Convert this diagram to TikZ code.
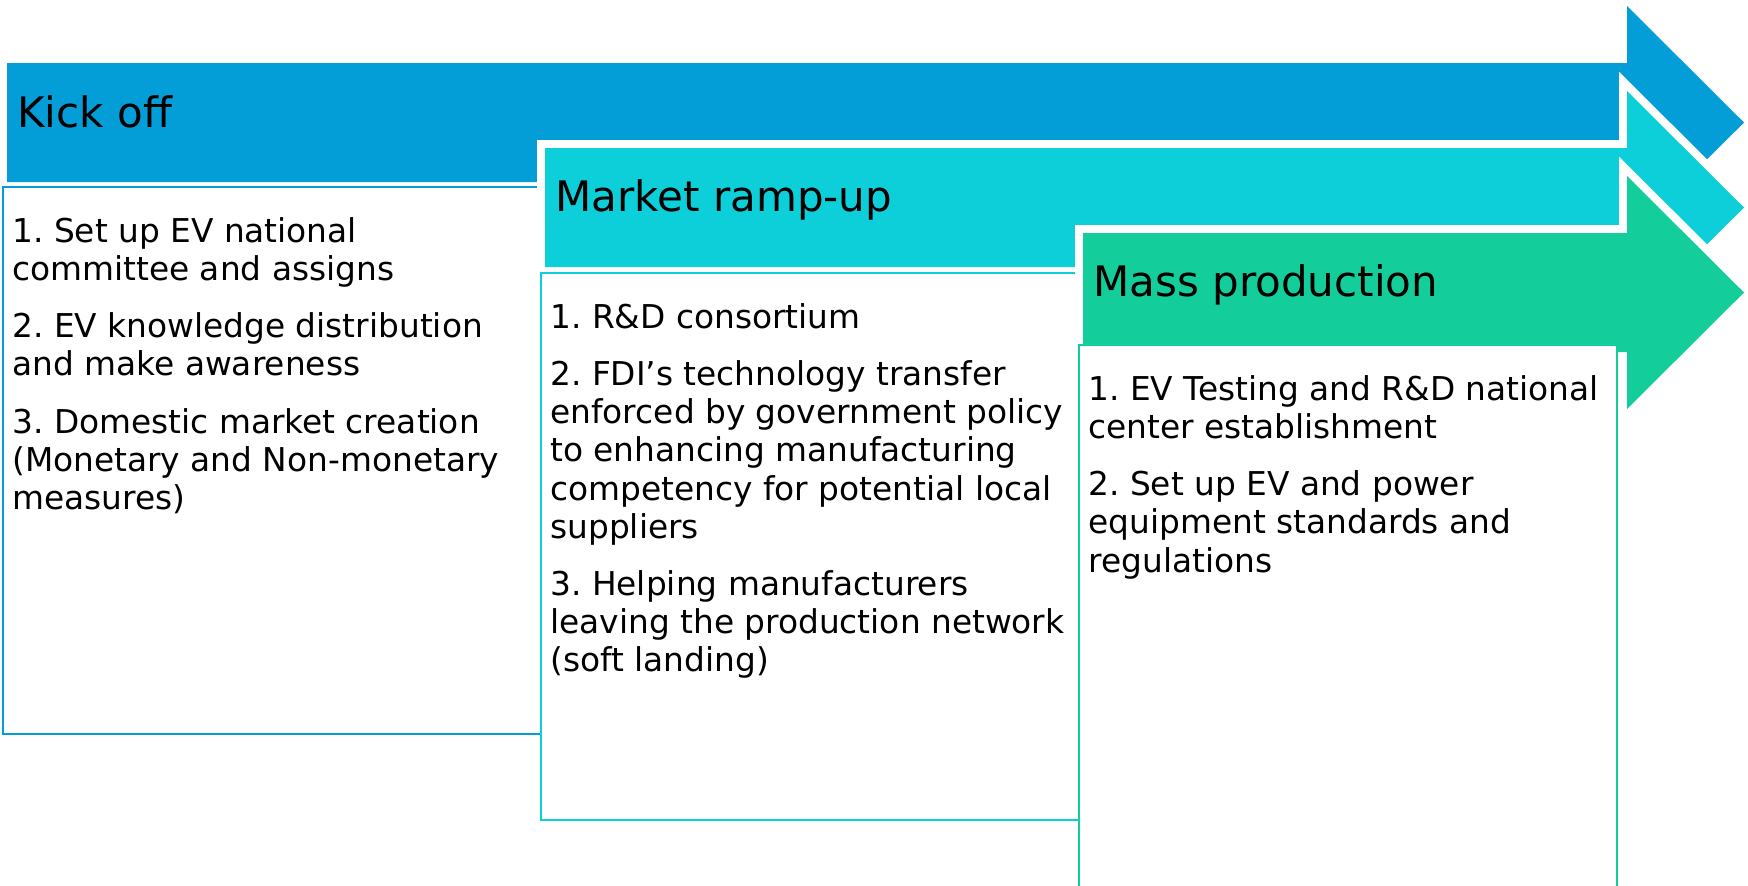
\documentclass[tikz,border=0pt]{standalone}
\usepackage{fontspec}
\setmainfont{DejaVu Sans}
\usepackage{tikz}
\usepackage{xcolor}
\frenchspacing
\definecolor{kickcolor}{HTML}{039ED8}
\definecolor{rampcolor}{HTML}{0DCFD9}
\definecolor{masscolor}{HTML}{13CE9A}
\tikzstyle{arrowrim} = [
    draw=white,
    line width=8pt,
    line join=miter
    ]
\tikzstyle{phasearrow} = [
    preaction={arrowrim}
    ]
\tikzstyle{phasetitle} =[
    font=\fontsize{21}{25}\selectfont,
    anchor=base west,
    inner sep=0pt
    ]
\tikzstyle{phasebox} = [
    fill=white,
    line width=1pt,
    rectangle,
    anchor=north west,
    minimum width=269pt,
    minimum height=273.5pt,
    inner sep=0pt
    ]
\tikzstyle{phaselist} = [
    font=\fontsize{16.4}{19.1}\selectfont,
    align=left,
    anchor=north west,
    inner sep=0pt,
    xshift=5pt,
    yshift=-15.5pt
    ]

\begin{document}
\begin{tikzpicture}[x=0.5pt, y=-0.5pt]
\useasboundingbox (0,0) rectangle (1748,885);

% arrows and boxes, back to front
\foreach \n/\c/\t [count=\i from 0] in {kick/kickcolor/186, ramp/rampcolor/272, mass/masscolor/344}{
  \fill[phasearrow, \c] (7+538*\i,63+85*\i) -- (1627,63+85*\i) -- (1627,6+85*\i)
    -- (1744,122.5+85*\i) -- (1627,239+85*\i) -- (1627,182+85*\i)
    -- (7+538*\i,182+85*\i) -- cycle;
  \node[phasebox, draw=\c] (\n-box) at (2+538*\i,\t) {};
}

\node[phasetitle] (kick-title) at (17,127) {Kick off};
\node[phasetitle] (ramp-title) at (555,211) {Market ramp-up};
\node[phasetitle] (mass-title) at (1093,296) {Mass production};

\node[phaselist] (kick-list) at (kick-box.north west) {%
1. Set up EV national\\
committee and assigns\\[9.5pt]
2. EV knowledge distribution\\
and make awareness\\[9.5pt]
3. Domestic market creation\\
(Monetary and Non-monetary\\
measures)};

\node[phaselist] (ramp-list) at (ramp-box.north west) {%
1. R\&D consortium\\[9.5pt]
2. FDI's technology transfer\\
enforced by government policy\\
to enhancing manufacturing\\
competency for potential local\\
suppliers\\[9.5pt]
3. Helping manufacturers\\
leaving the production network\\
(soft landing)};

\node[phaselist] (mass-list) at (mass-box.north west) {%
1. EV Testing and R\&D national\\
center establishment\\[9.5pt]
2. Set up EV and power\\
equipment standards and\\
regulations};
\end{tikzpicture}
\end{document}
